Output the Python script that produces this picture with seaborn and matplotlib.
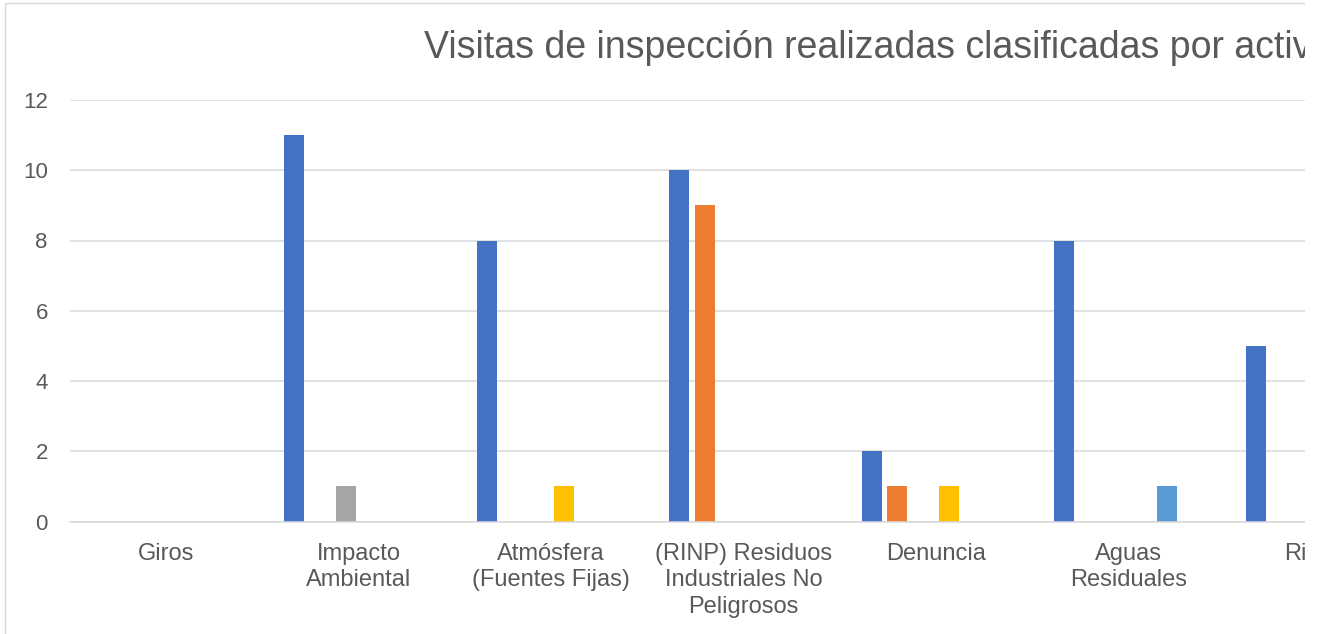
import numpy as np
import pandas as pd
import matplotlib.pyplot as plt
import seaborn as sns
from matplotlib.patches import Rectangle

# categorias del eje x (la ultima queda cortada en la imagen original)
categorias = ["Giros", "Impacto\nAmbiental", "Atmósfera\n(Fuentes Fijas)",
              "(RINP) Residuos\nIndustriales No\nPeligrosos", "Denuncia",
              "Aguas\nResiduales", "Riesgo"]
series = ["Serie 1", "Serie 2", "Serie 3", "Serie 4", "Serie 5", "Serie 6"]

serie_1 = [0, 11, 8, 10, 2, 8, 5]
serie_2 = [0, 0, 0, 9, 1, 0, 0]
serie_3 = [0, 1, 0, 0, 0, 0, 0]
serie_4 = [0, 0, 1, 0, 1, 0, 0]
serie_5 = [0, 0, 0, 0, 0, 1, 0]
serie_6 = [0, 0, 0, 0, 0, 0, 0]

colores = ["#4472C4", "#ED7D31", "#A5A5A5", "#FFC000", "#5B9BD5", "#70AD47"]
titulo = "Visitas de inspección realizadas clasificadas por actividad"

valores = [serie_1, serie_2, serie_3, serie_4, serie_5, serie_6]
df = pd.DataFrame([
    {"categoria": c, "serie": s, "valor": v}
    for s, vals in zip(series, valores)
    for c, v in zip(categorias, vals)
])

sns.set_theme(style="white")
plt.rcParams['font.family'] = ['Liberation Sans', 'DejaVu Sans']

W, H = 1319, 634
fig = plt.figure(figsize=(W / 100, H / 100), dpi=100)
# the plot area runs past the right edge, like the cropped original
ax = fig.add_axes([70 / W, (H - 521.5) / H, 7 * 192.4 / W, (521.5 - 100) / H])

sns.barplot(data=df, x="categoria", y="valor", hue="serie",
            order=categorias, hue_order=series, palette=colores,
            saturation=1, width=0.8, gap=0.22, linewidth=0,
            legend=False, ax=ax)

ax.set_xlim(-0.5, 6.5)
ax.set_ylim(0, 12)
ax.set_yticks(np.arange(0, 13, 2))
ax.set_xlabel("")
ax.set_ylabel("")
ax.grid(axis='y', color='#d9d9d9', linewidth=1.1)
ax.set_axisbelow(True)
for side in ['left', 'top', 'right']:
    ax.spines[side].set_visible(False)
ax.spines['bottom'].set_color('#d9d9d9')
ax.spines['bottom'].set_linewidth(1.1)
ax.tick_params(axis='x', length=0, pad=15.5, labelsize=17, labelcolor='#595959')
ax.tick_params(axis='y', length=0, pad=16, labelsize=16, labelcolor='#595959')
for lbl in ax.get_xticklabels():
    lbl.set_linespacing(1.25)

fig.text(424 / W, 1 - 58.5 / H, titulo, ha='left', va='baseline',
         fontsize=27, color='#595959')

# chart border and the white strip where the original is cut off
fig.add_artist(Rectangle((5 / W, -0.05), 1.2, 1 - 3 / H + 0.05,
                         transform=fig.transFigure, fill=False,
                         edgecolor='#d9d9d9', linewidth=1))
fig.add_artist(Rectangle((1305 / W, 0), 1, 1, transform=fig.transFigure,
                         facecolor='white', edgecolor='none', zorder=100))

fig.savefig("out.png", dpi=100)
plt.close(fig)
